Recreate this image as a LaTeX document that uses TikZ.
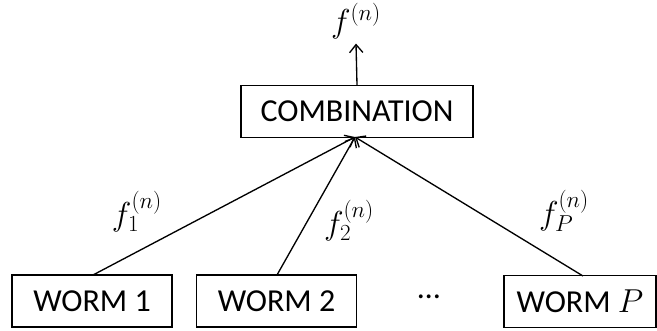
\documentclass[tikz,border=0pt]{standalone}
\usepackage{fontspec}
\setmainfont{Carlito}
\usetikzlibrary{arrows.meta}
\begin{document}
\begin{tikzpicture}[x=0.75pt,y=-0.75pt,
  box/.style={draw,line width=1pt,minimum height=39pt,inner sep=0pt,font=\fontsize{24}{28}\selectfont},
  conn/.style={line width=1pt,-{Straight Barb[length=6pt,width=10pt,line width=1pt]}},
  lbl/.style={font=\fontsize{27}{31}\selectfont}]
\useasboundingbox (0,0) rectangle (657,331);
\node[box,minimum width=174pt] (comb) at (357,111.5) {COMBINATION};
\node[box,minimum width=120pt] (w1) at (92,301) {WORM 1};
\node[box,minimum width=120pt] (w2) at (276.5,301) {WORM 2};
\node[box,minimum width=114pt] (wp) at (580,301.5) {WORM \fontsize{25}{29}\selectfont$P$};
\node[font=\fontsize{24}{28}\selectfont] (dots) at (429,297) {…};
\node[lbl] (out) at (356,21) {$f^{(n)}$};
\coordinate (apex) at (355,137);
\draw[conn] (comb.north) -- (out.south);
\draw[conn] (93,275) coordinate (a1) -- (apex);
\draw[conn] (277,275) coordinate (a2) -- (apex);
\draw[conn] (583,276) coordinate (ap) -- (apex);
\node[lbl] (l1) at (137,212) {$f_1^{(n)}$};
\node[lbl] (l2) at (349,221) {$f_2^{(n)}$};
\node[lbl] (lp) at (564,211) {$f_P^{(n)}$};
\end{tikzpicture}
\end{document}
